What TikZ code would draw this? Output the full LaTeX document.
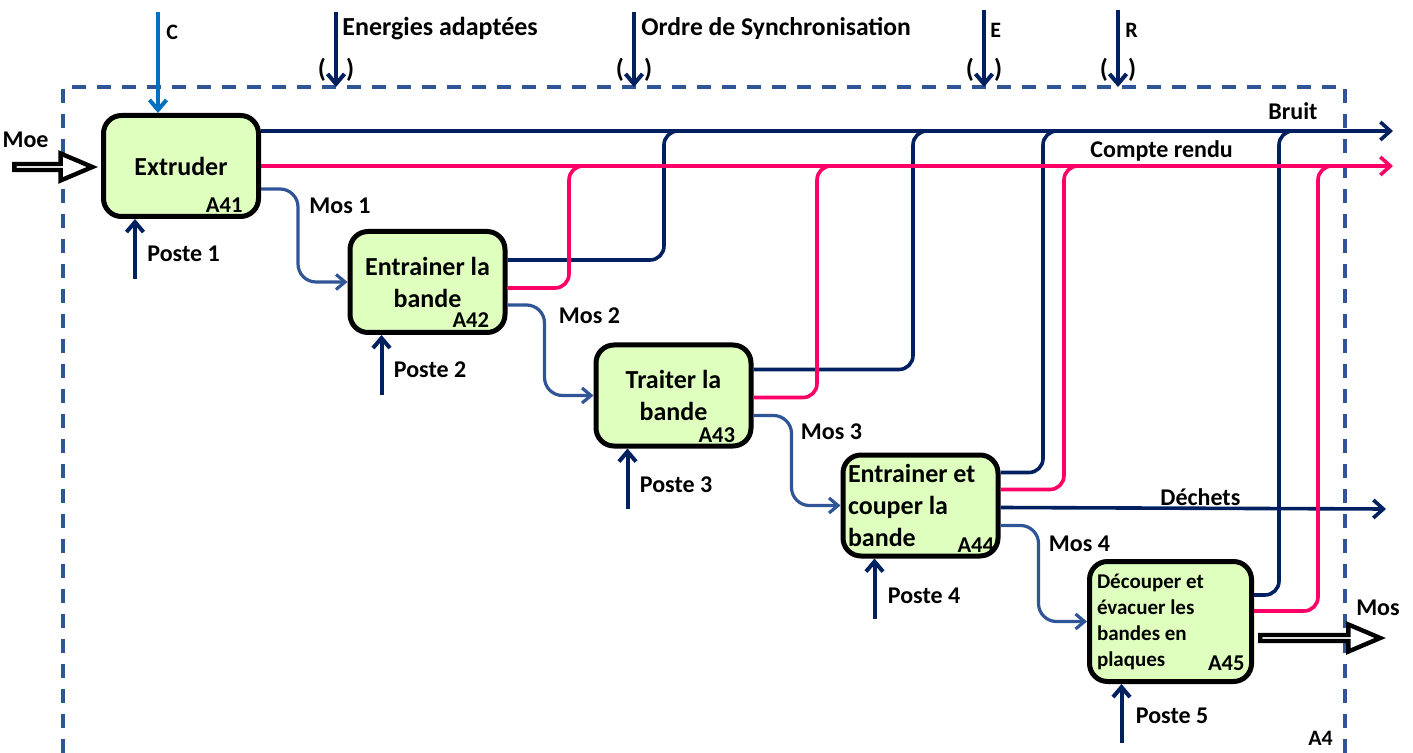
\documentclass[tikz,border=0pt]{standalone}
\usepackage{fontspec}
\setmainfont{Carlito}
\usetikzlibrary{arrows.meta}
\usetikzlibrary{calc}
\usetikzlibrary{shapes.arrows}
\definecolor{navy}{RGB}{0,32,96}
\definecolor{ctrlblue}{RGB}{0,112,192}
\definecolor{mosblue}{RGB}{47,85,151}
\definecolor{crpink}{RGB}{255,0,102}
\definecolor{boxgreen}{RGB}{223,255,191}
\newcommand{\fsz}[2]{\fontsize{#1}{#2}\selectfont}
\tikzstyle{every node}=[font=\bfseries\fsz{12}{14}, inner sep=0pt]
\tikzstyle{activity}=[draw=black, line width=2.5pt, fill=boxgreen, rounded corners=9pt, minimum width=77.5pt, minimum height=50.5pt, align=center, font=\bfseries\fsz{13}{16}]
\tikzstyle{idlab}=[anchor=base east, font=\bfseries\fsz{11.3}{13}]
\tikzstyle{toplab}=[anchor=base west, font=\bfseries\fsz{13}{15}]
\tikzstyle{lab}=[anchor=base west]
\tikzstyle{ctrl}=[draw=navy, line width=2pt, -{Straight Barb[length=5pt,width=8.5pt]}]
\tikzstyle{outnavy}=[draw=navy, line width=1.8pt, rounded corners=7pt]
\tikzstyle{outpink}=[draw=crpink, line width=1.8pt, rounded corners=7pt]
\tikzstyle{mosflow}=[draw=mosblue, line width=1.6pt, rounded corners=9pt, -{Straight Barb[length=4.5pt,width=7.5pt]}]
\tikzstyle{hollow}=[single arrow, draw=black, line width=2.2pt, fill=white, single arrow tip angle=46, minimum width=13.5pt, single arrow head extend=3.8pt, inner sep=0pt]
\tikzstyle{frame}=[draw=mosblue, line width=1.8pt, dash pattern=on 7pt off 5.5pt]

\begin{document}
\begin{tikzpicture}[x=0.5pt,y=-0.5pt]
    \useasboundingbox (0,0) rectangle (1413,753);

    % Named coordinates
    \coordinate (frameNW) at (63,87);
    \coordinate (frameNE) at (1345,87);
    \coordinate (frameSW) at (63,753);
    \coordinate (frameSE) at (1345,753);
    \coordinate (Ctop) at (158,12);
    \coordinate (Entop) at (336,12);
    \coordinate (Ordtop) at (634,12);
    \coordinate (Etop) at (984,10);
    \coordinate (Rtop) at (1118,10);
    \coordinate (BruitEnd) at (1393,131);
    \coordinate (CREnd) at (1393,166);
    \coordinate (DechEnd) at (1386,509);

    % Frame of A4
    \draw[frame] (frameSW) -- (frameNW) -- (frameNE) -- (frameSE);
    \node[lab, font=\bfseries\fsz{11}{13}] (A4lab) at ($(frameSE)+(-37,-8)$) {A4};

    % Activities
    \node[activity] (A41) at (181,166) {Extruder};
    \node[activity] (A42) at (427.5,282) {Entrainer la\\bande};
    \node[activity] (A43) at (673.5,395.5) {Traiter la\\bande};
    \node[activity, align=flush left, text width=72.5pt] (A44) at (920.5,505.5) {Entrainer et\\couper la\\bande};
    \node[activity, align=flush left, text width=73.5pt, minimum width=81pt, minimum height=60pt,
        font=\bfseries\fsz{10.5}{13}] (A45) at (1170.5,621.5) {D\'ecouper et\\\'evacuer les\\bandes en\\plaques};
    \node[idlab] (A41id) at ($(A41.south east)+(-18,-6)$) {A41};
    \node[idlab] (A42id) at ($(A42.south east)+(-18,-7)$) {A42};
    \node[idlab] (A43id) at ($(A43.south east)+(-18,-6)$) {A43};
    \node[idlab] (A44id) at ($(A44.south east)+(-6,-6)$) {A44};
    \node[idlab] (A45id) at ($(A45.south east)+(-9,-14)$) {A45};

    % Controls from the top
    \draw[ctrl, draw=ctrlblue] (Ctop) -- (Ctop |- A41.north);
    \draw[ctrl] (Entop) -- (Entop |- frameNW);
    \draw[ctrl] (Ordtop) -- (Ordtop |- frameNW);
    \draw[ctrl] (Etop) -- (Etop |- frameNW);
    \draw[ctrl] (Rtop) -- (Rtop |- frameNW);
    \node[lab, font=\bfseries\fsz{11}{13}] (Clab) at ($(Ctop)+(8,28)$) {C};
    \node[toplab] (Enlab) at ($(Entop)+(6,24)$) {Energies adapt\'ees};
    \node[toplab, font=\bfseries\fsz{12.8}{15}] (Ordlab) at ($(Ordtop)+(7,24)$) {Ordre de Synchronisation};
    \node[lab, font=\bfseries\fsz{11}{13}] (Elab) at ($(Etop)+(6,28)$) {E};
    \node[lab, font=\bfseries\fsz{11}{13}] (Rlab) at ($(Rtop)+(7,28)$) {R};
    \node[font=\bfseries\fsz{13}{15}] (Enpar) at ($(Entop |- frameNW)+(0,-17)$) {(\hspace{10pt})};
    \node[font=\bfseries\fsz{13}{15}] (Ordpar) at ($(Ordtop |- frameNW)+(0,-17)$) {(\hspace{10pt})};
    \node[font=\bfseries\fsz{13}{15}] (Epar) at ($(Etop |- frameNW)+(0,-17)$) {(\hspace{10pt})};
    \node[font=\bfseries\fsz{13}{15}] (Rpar) at ($(Rtop |- frameNW)+(0,-17)$) {(\hspace{10pt})};

    % Merge points on Bruit and Compte rendu
    \coordinate (mB2) at (664,131);
    \coordinate (mB3) at (913,131);
    \coordinate (mB4) at (1043,131);
    \coordinate (mB5) at (1279,131);
    \coordinate (mC2) at (569,166);
    \coordinate (mC3) at (817,166);
    \coordinate (mC4) at (1064,166);
    \coordinate (mC5) at (1318,166);

    % Bruit (navy)
    \draw[outnavy, -{Straight Barb[length=5pt,width=9pt]}] (A41.north east |- BruitEnd) -- (BruitEnd);
    \draw[outnavy] ($(A42.north east)+(0,31)$) -| (mB2) -- ++(14,0);
    \draw[outnavy] ($(A43.north east)+(0,27)$) -| (mB3) -- ++(14,0);
    \draw[outnavy] ($(A44.north east)+(0,20)$) -| (mB4) -- ++(14,0);
    \draw[outnavy] ($(A45.north east)+(0,36)$) -| (mB5) -- ++(14,0);
    \node[lab] (Bruitlab) at ($(BruitEnd)+(-125,-11)$) {Bruit};

    % Dechets
    \draw[outnavy, -{Straight Barb[length=5pt,width=9pt]}] ($(A44.north east)+(0,55)$) -- (DechEnd);
    \node[lab] (Dechlab) at ($(DechEnd)+(-226,-4)$) {D\'echets};

    % Compte rendu (pink)
    \draw[outpink, -{Straight Barb[length=5pt,width=9pt]}] (A41.east) -- (CREnd);
    \draw[outpink] ($(A42.north east)+(0,59)$) -| (mC2) -- ++(14,0);
    \draw[outpink] ($(A43.north east)+(0,55)$) -| (mC3) -- ++(14,0);
    \draw[outpink] ($(A44.north east)+(0,37)$) -| (mC4) -- ++(14,0);
    \draw[outpink] ($(A45.north east)+(0,52)$) -| (mC5) -- ++(14,0);
    \node[lab] (CRlab) at ($(CREnd)+(-303,-8)$) {Compte rendu};

    % Mos flows between activities
    \draw[mosflow] ($(A41.north east)+(0,76)$) -- ++(37,0) |- (A42.west);
    \draw[mosflow] ($(A42.north east)+(0,76)$) -- ++(37,0) |- (A43.west);
    \draw[mosflow] ($(A43.north east)+(0,73)$) -- ++(38,0) |- (A44.west);
    \draw[mosflow] ($(A44.north east)+(0,73)$) -- ++(38,0) |- (A45.west);
    \node[lab] (Mos1lab) at ($(A41.north east)+(48,101)$) {Mos 1};
    \node[lab] (Mos2lab) at ($(A42.north east)+(51,95)$) {Mos 2};
    \node[lab] (Mos3lab) at ($(A43.north east)+(47,97)$) {Mos 3};
    \node[lab] (Mos4lab) at ($(A44.north east)+(48,99)$) {Mos 4};

    % Postes (mechanisms)
    \coordinate (P1) at ($(A41.south)+(-46,60)$);
    \coordinate (P2) at ($(A42.south)+(-46,60)$);
    \coordinate (P3) at ($(A43.south)+(-46,60)$);
    \coordinate (P4) at ($(A44.south)+(-46,60)$);
    \coordinate (P5) at ($(A45.south)+(-49,59)$);
    \draw[ctrl] (P1) -- (P1 |- A41.south);
    \draw[ctrl] (P2) -- (P2 |- A42.south);
    \draw[ctrl] (P3) -- (P3 |- A43.south);
    \draw[ctrl] (P4) -- (P4 |- A44.south);
    \draw[ctrl] (P5) -- (P5 |- A45.south);
    \node[lab] (P1lab) at ($(P1)+(12,-17)$) {Poste 1};
    \node[lab] (P2lab) at ($(P2)+(12,-17)$) {Poste 2};
    \node[lab] (P3lab) at ($(P3)+(12,-16)$) {Poste 3};
    \node[lab] (P4lab) at ($(P4)+(13,-15)$) {Poste 4};
    \node[lab] (P5lab) at ($(P5)+(14,-20)$) {Poste 5};

    % Entry and exit of matter
    \node[hollow, minimum height=39pt, anchor=east] (MoeArr) at ($(A41.west)+(-3,1)$) {};
    \node[hollow, minimum height=60pt, anchor=west] (MosArr) at ($(A45.north east)+(4,79)$) {};
    \node[lab] (Moelab) at ($(MoeArr.west)+(-10,-19)$) {Moe};
    \node[lab] (Moslab) at ($(MosArr.east)+(-30,-23)$) {Mos};
\end{tikzpicture}
\end{document}
